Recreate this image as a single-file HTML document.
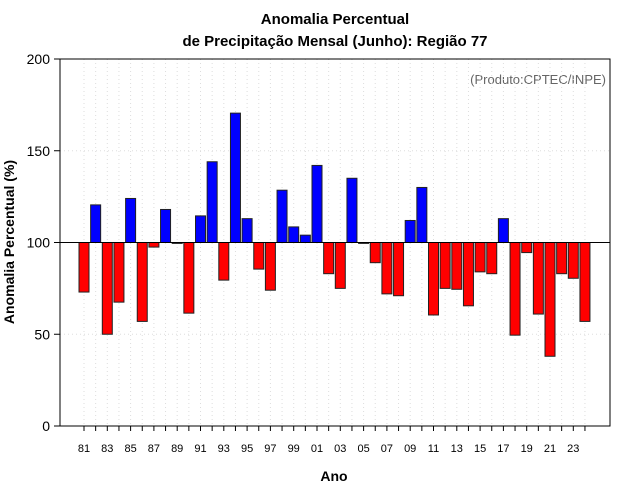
<!DOCTYPE html>
<html><head><meta charset="utf-8"><style>body{margin:0;background:#fff}svg{display:block;font-family:"Liberation Sans",sans-serif}</style></head>
<body>
<svg id="chart" width="640" height="500">
<text x="335" y="24" text-anchor="middle" font-size="15" font-weight="bold">Anomalia Percentual</text>
<text x="335" y="46" text-anchor="middle" font-size="15" font-weight="bold">de Precipitação Mensal (Junho): Região 77</text>
<text x="606" y="84" text-anchor="end" font-size="13" fill="#666">(Produto:CPTEC/INPE)</text>
<text x="334" y="481" text-anchor="middle" font-size="14" font-weight="bold">Ano</text>
<text transform="translate(14,242) rotate(-90)" text-anchor="middle" font-size="14" font-weight="bold">Anomalia Percentual (%)</text>
<g id="grid"></g><g id="bars"></g><g id="axes"></g>
</svg>
<script>
const years=["81","82","83","84","85","86","87","88","89","90","91","92","93","94","95","96","97","98","99","00","01","02","03","04","05","06","07","08","09","10","11","12","13","14","15","16","17","18","19","20","21","22","23","24"];
const values=[73,120.5,50,67.5,124,57,97.5,118,99.5,61.5,114.5,144,79.5,170.5,113,85.5,74,128.5,108.5,104,142,83,75,135,99.5,89,72,71,112,130,60.5,75,74.5,65.5,84,83,113,49.5,94.5,61,38,83,80.5,57];
const yTicks=[0,50,100,150,200];
const NS="http://www.w3.org/2000/svg";
const L=60,R=610,T=59,B=426;
const y=v=>B-(v/200)*(B-T);
const x=i=>84+i*11.65;
function mk(tag,attrs,parent){const e=document.createElementNS(NS,tag);for(const k in attrs)e.setAttribute(k,attrs[k]);document.getElementById(parent).appendChild(e);return e;}
years.forEach((yr,i)=>{
 const g=mk('line',{x1:x(i),x2:x(i),y1:T,y2:B,stroke:'#ddd','stroke-dasharray':'1,3'},'grid');
 
 
 const t=mk('line',{x1:x(i),x2:x(i),y1:B,y2:B+5,stroke:'#000'},'axes');
 
 
 if(i%2===0){const l=mk('text',{x:x(i),y:452,'text-anchor':'middle','font-size':11},'axes');l.textContent=yr;
 
 }
});
yTicks.forEach(v=>{
 const g=mk('line',{x1:L,x2:R,y1:y(v),y2:y(v),stroke:'#ddd','stroke-dasharray':'1,3'},'grid');
 
 
 const t=mk('line',{x1:L-6,x2:L,y1:y(v),y2:y(v),stroke:'#000'},'axes');
 
 
 const l=mk('text',{x:L-10,y:y(v)+5,'text-anchor':'end','font-size':14},'axes');l.textContent=v;
 
 
});
values.forEach((v,i)=>{
 const top=Math.min(y(v),y(100)),h=Math.abs(y(v)-y(100));
 const r=mk('rect',{x:x(i)-5,y:top,width:10,height:Math.max(h,0.8),fill:v>=100?'#0000ff':'#ff0000',stroke:'#222','stroke-width':1},'bars');
 
 
});
const bl=mk('line',{x1:L,x2:R,y1:y(100),y2:y(100),stroke:'#000'},'axes');


const fr=mk('rect',{x:L,y:T,width:R-L,height:B-T,fill:'none',stroke:'#000'},'axes');


</script>
</body></html>
